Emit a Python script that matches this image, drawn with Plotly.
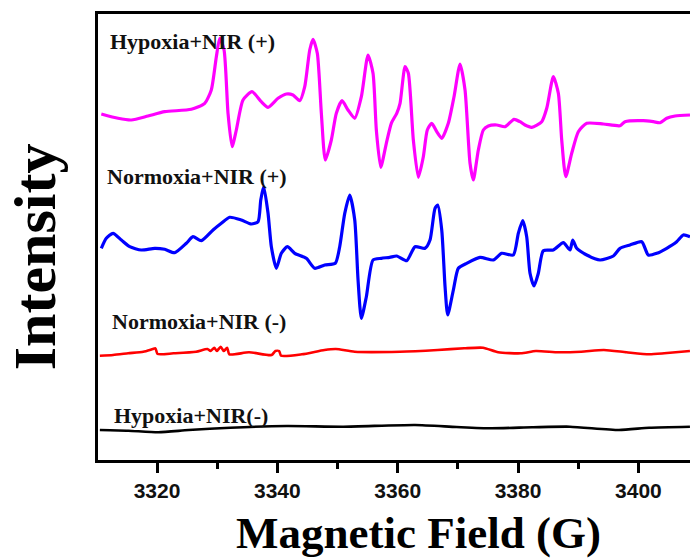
import plotly.graph_objects as go

# ---- data (intensity in arbitrary units, curves offset) ----
hyp_plus_field = [3310.74, 3313.52, 3315.73, 3318.50, 3321.28, 3325.70, 3327.93, 3329.02, 3329.86, 3330.42,
                  3331.14, 3331.80, 3332.47, 3333.18, 3334.29, 3335.79, 3337.33, 3338.45, 3340.11, 3341.49,
                  3342.60, 3343.72, 3344.55, 3345.38, 3345.93, 3346.64, 3347.31, 3347.97, 3348.97, 3349.80,
                  3350.75, 3351.74, 3352.86, 3353.96, 3355.07, 3355.90, 3356.45, 3357.18, 3358.11, 3358.94,
                  3359.84, 3360.39, 3361.22, 3361.77, 3362.60, 3363.43, 3364.26, 3364.92, 3365.66, 3366.49,
                  3367.32, 3368.41, 3369.36, 3370.36, 3371.19, 3372.02, 3372.57, 3373.40, 3374.23, 3375.06,
                  3376.46, 3377.84, 3379.33, 3380.33, 3381.16, 3382.28, 3383.94, 3384.77, 3385.87, 3386.70,
                  3387.26, 3387.93, 3388.92, 3390.02, 3391.42, 3394.18, 3396.95, 3397.78, 3400.82, 3402.49,
                  3403.60, 3404.71, 3406.09, 3408.58]
hyp_plus_int = [346, 341.7, 340, 344, 348.3, 350.7, 356.7, 370, 403.3, 421.7,
                410, 346.7, 313.3, 330, 360, 368.3, 358.3, 352.7, 361.7, 366,
                365, 359.3, 373.3, 410, 420.7, 406.7, 346.7, 300, 320, 346.7,
                359.3, 350, 341.7, 363.3, 405, 386.7, 330, 292.7, 316.7, 336.7,
                346.7, 356.7, 393.3, 386.7, 320, 282.7, 303.3, 330, 336.7, 328.3,
                321.7, 336.7, 363.3, 396, 370, 296.7, 280, 310, 330, 334,
                335, 333.3, 340.7, 338.3, 335, 332.7, 338.3, 351.7, 383.3, 366.7,
                320, 283.3, 306.7, 328.3, 336.7, 336, 334.3, 338.3, 339.3, 338.3,
                337.3, 341.7, 344, 345]

norm_plus_field = [3310.74, 3311.57, 3312.69, 3314.07, 3315.46, 3317.39, 3319.62, 3321.28, 3322.94, 3324.87,
                   3325.98, 3327.36, 3329.31, 3330.69, 3332.08, 3334.01, 3335.67, 3336.79, 3337.24, 3337.73,
                   3338.45, 3339.00, 3339.83, 3340.66, 3341.66, 3342.89, 3344.81, 3346.21, 3347.87, 3349.63,
                   3350.36, 3351.20, 3352.03, 3352.86, 3353.41, 3353.96, 3354.79, 3355.90, 3357.28, 3358.67,
                   3359.84, 3361.50, 3362.88, 3364.54, 3365.37, 3366.20, 3366.65, 3367.32, 3367.87, 3368.31,
                   3369.25, 3370.08, 3371.47, 3373.68, 3375.89, 3377.29, 3379.22, 3380.05, 3380.78, 3381.44,
                   3381.99, 3382.66, 3383.37, 3384.20, 3385.87, 3387.53, 3388.64, 3389.09, 3389.75, 3391.42,
                   3393.63, 3395.84, 3396.95, 3398.61, 3400.56, 3401.65, 3403.05, 3404.71, 3406.37, 3407.47,
                   3408.58]
norm_plus_int = [211.7, 221.7, 226.7, 220, 213.3, 210, 211.7, 210.7, 207.3, 216.7,
                 223.3, 219.3, 230, 236.7, 242.7, 240, 236, 238.3, 260, 273.3,
                 246.7, 213.3, 191.7, 206.7, 213.3, 206.7, 201.7, 191.7, 195, 196.7,
                 213.3, 246.7, 265, 240, 180, 141.7, 163.3, 200, 201.7, 202.7,
                 204, 199.3, 213.3, 211.7, 220, 251.7, 255, 230, 173.3, 145,
                 170, 191.7, 196.7, 202.7, 200, 206.7, 205, 226.7, 239.3, 223.3,
                 186.7, 174, 186.7, 209.3, 210, 217.3, 210, 220, 211.7, 205,
                 200, 204, 211.7, 215, 218.3, 205, 206.7, 211.7, 218.3, 225,
                 223.3]

norm_minus_field = [3310.50, 3312.70, 3315.21, 3317.72, 3319.29, 3319.73, 3320.10, 3322.74, 3326.50, 3328.38,
                    3328.89, 3329.51, 3329.95, 3330.58, 3331.08, 3331.65, 3332.02, 3335.29, 3339.05, 3339.68,
                    3340.30, 3340.62, 3344.07, 3347.83, 3349.72, 3352.85, 3360.38, 3366.65, 3371.05, 3374.18,
                    3376.70, 3380.46, 3382.97, 3386.73, 3390.50, 3394.26, 3398.03, 3401.79, 3404.30, 3408.57]
norm_minus_int = [104.3, 105, 106.7, 108.3, 111, 111.7, 106, 106.7, 108.3, 111,
                  109, 112.3, 109, 113.3, 109, 112.3, 105.7, 107.7, 105, 109,
                  109, 104.3, 105.7, 110, 111, 108.3, 108.3, 110, 111.7, 112.3,
                  107.7, 106.7, 109, 107.7, 108.3, 110, 107.7, 105.7, 106.7, 109]

hyp_minus_field = [3310.50, 3315.21, 3320.23, 3325.25, 3332.15, 3341.56, 3350.97, 3362.89, 3369.79, 3375.44,
                   3382.34, 3388.62, 3396.78, 3401.79, 3408.57]
hyp_minus_int = [30, 29.3, 27.7, 30, 32.3, 34, 33.3, 35, 33, 31.7,
                 32.7, 33.3, 30, 32.3, 33.3]

x_range = [3310.19, 3408.58]
y_range = [0, 446]
tick_vals = [3320, 3340, 3360, 3380, 3400]
tick_text = ["3320", "3340", "3360", "3380", "3400"]

labels = ["Hypoxia+NIR (+)", "Normoxia+NIR (+)", "Normoxia+NIR (-)", "Hypoxia+NIR(-)"]
label_x = [3311.9, 3311.3, 3312.2, 3312.5]
label_y = [418.3, 284, 139, 45]

series = [
    (hyp_plus_field, hyp_plus_int, "#FF00FF", 3.2),
    (norm_plus_field, norm_plus_int, "#0000FF", 3.2),
    (norm_minus_field, norm_minus_int, "#FF0000", 2.6),
    (hyp_minus_field, hyp_minus_int, "#000000", 2.6),
]

fig = go.Figure()
for (xs, ys, col, w), name in zip(series, labels):
    fig.add_trace(go.Scatter(x=xs, y=ys, mode="lines", name=name,
                             line=dict(color=col, width=w, shape="spline", smoothing=0.6),
                             showlegend=False, hoverinfo="skip"))

serif = "Liberation Serif"
for t, lx, ly in zip(labels, label_x, label_y):
    fig.add_annotation(x=lx, y=ly, xref="x", yref="y", text=t, showarrow=False,
                       xanchor="left", yanchor="middle",
                       font=dict(family=serif, size=22, color="#111111", weight="bold"))

fig.add_annotation(x=0.541, y=-0.163, xref="paper", yref="paper", text="Magnetic Field (G)",
                   showarrow=False, xanchor="center", yanchor="middle",
                   font=dict(family=serif, size=45, color="#000000", weight="bold"))
fig.add_annotation(x=-0.106, y=0.455, xref="paper", yref="paper", text="Intensity",
                   showarrow=False, xanchor="center", yanchor="middle", textangle=-90,
                   font=dict(family=serif, size=60, color="#000000", weight="bold"))

fig.update_layout(
    width=690, height=558,
    margin=dict(l=98, r=0, t=14, b=98),
    paper_bgcolor="white", plot_bgcolor="white",
)
fig.update_xaxes(range=x_range, tickvals=tick_vals, ticktext=tick_text,
                 ticks="outside", ticklen=10, tickwidth=2.5, tickcolor="black",
                 minor=dict(dtick=10, tick0=3310, ticks="outside", ticklen=6, tickwidth=2.5, tickcolor="black"),
                 showline=True, linewidth=3, linecolor="black", mirror=True,
                 showgrid=False, zeroline=False,
                 tickfont=dict(family="Liberation Sans", size=21, color="#111111", weight="bold"))
fig.update_yaxes(range=y_range, showticklabels=False, ticks="", showline=True, linewidth=2.5,
                 linecolor="black", showgrid=False, zeroline=False)

fig.write_html("out.html")
